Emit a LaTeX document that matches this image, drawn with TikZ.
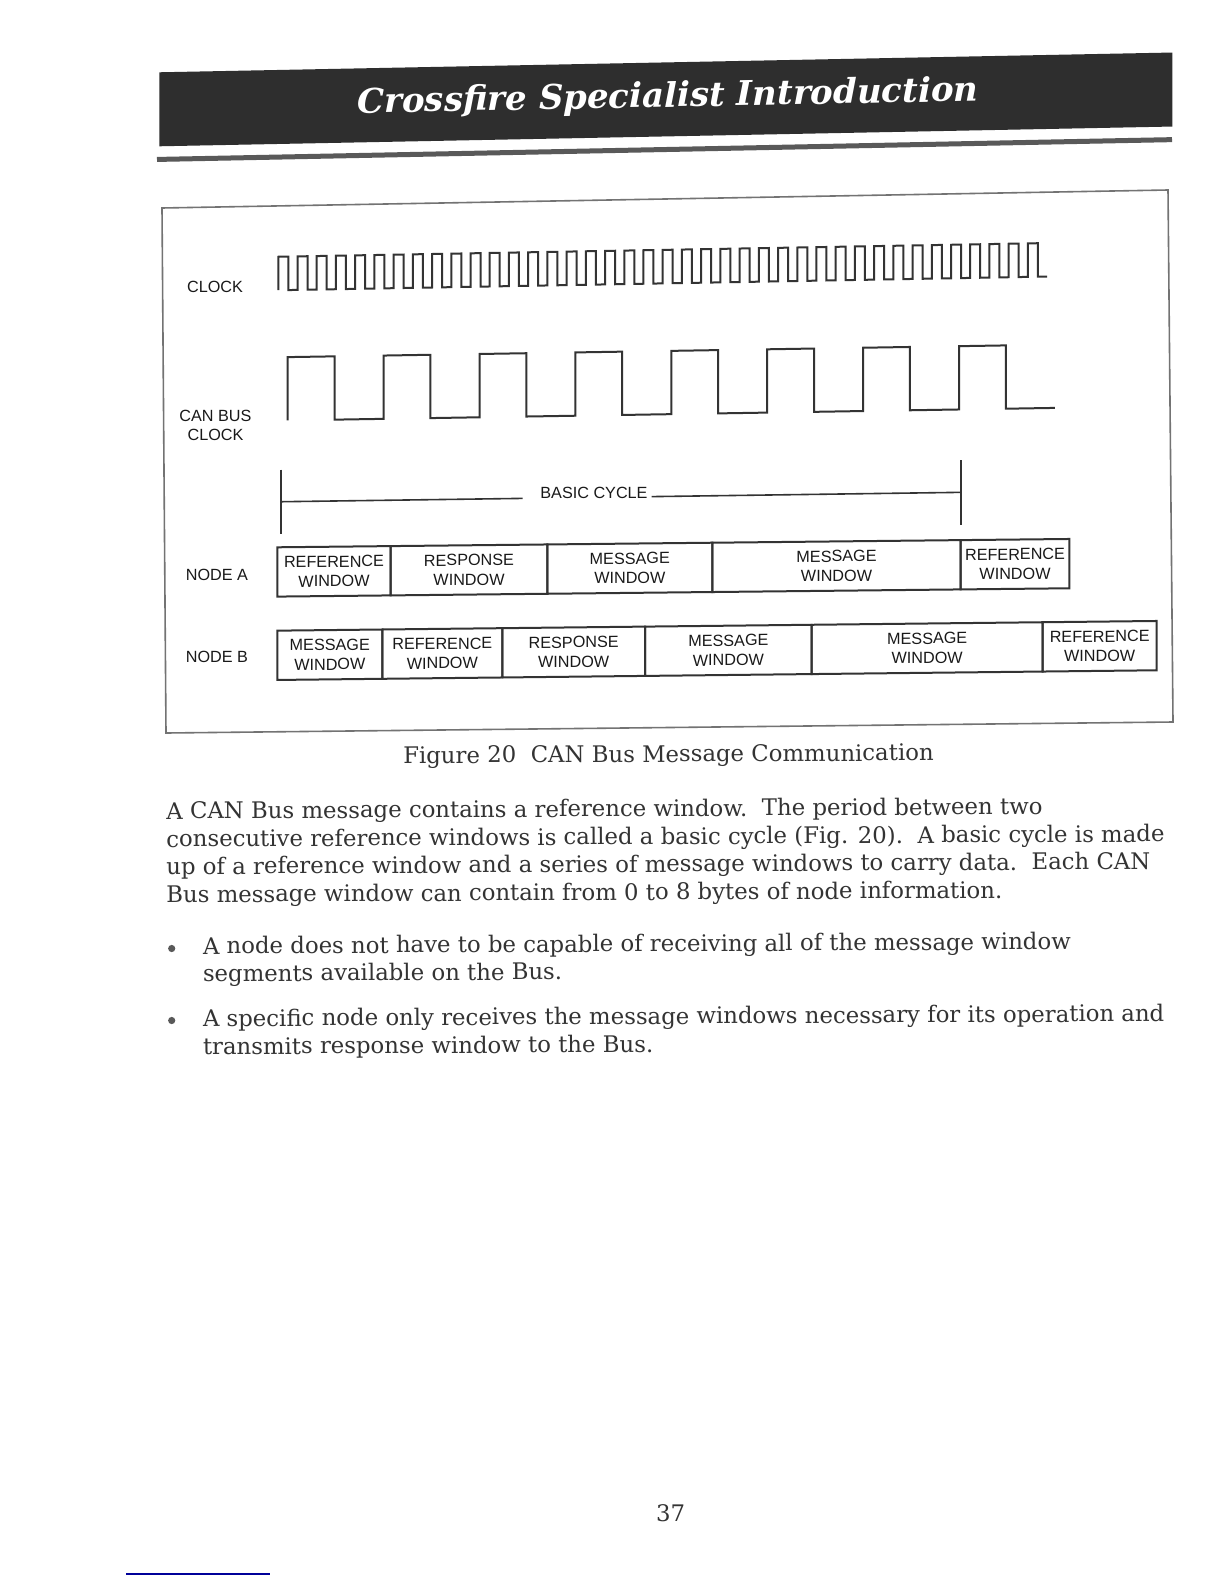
\documentclass[tikz,border=0pt]{standalone}
\usepackage{fontspec}
\setmainfont{DejaVu Serif}
\newfontfamily\sansf{Liberation Sans}
\newcommand\wbox[5]{\node[win, minimum width={(#3-#2)*0.5pt}, minimum height=24.65pt] (#1) at ({(#2+#3)/2},#4) {#5};}
\begin{document}
\begin{tikzpicture}[x=0.5pt,y=-0.5pt,
  lbl/.style={font=\sansf\fontsize{8.1}{9.65}\selectfont, text=black!90, inner sep=0},
  win/.style={draw=black!80, line width=1pt, inner sep=0, outer sep=0, align=center, font=\sansf\fontsize{8.1}{9.75}\selectfont, text=black!90},
  wave/.style={draw=black!80, line width=1pt, line join=miter},
  dimline/.style={draw=black!80, line width=0.8pt},
  body/.style={font=\fontsize{11.4}{13.9}\selectfont, text=black!80, inner sep=0, anchor=base west, rotate=0.3},
  bullet/.style={circle, fill=black!65, inner sep=0, minimum size=3.6pt},
]
\useasboundingbox (0,0) rectangle (1224,1584);
\fill[white] (0,0) rectangle (1224,1584);

% header
\begin{scope}[yslant=0.0195, transform shape]
  \node[fill=black!82, minimum width=506.5pt, minimum height=37pt, inner sep=0, anchor=north west] (bar) at (159,75) {};
  \node[anchor=base west, inner sep=0, text=white, font=\bfseries\itshape] (title) at (357,120) {\resizebox{310.5pt}{!}{Crossfire Specialist Introduction}};
  \coordinate (ulL) at (157,162.5);
  \coordinate (ulR) at (1172,162.5);
  \draw[line width=2.5pt, black!65] (ulL) -- (ulR);
\end{scope}

% figure frame
\coordinate (fTL) at (162,208);
\coordinate (fTR) at (1168,190);
\coordinate (fBR) at (1173,722);
\coordinate (fBL) at (166,733);
\draw[black!55, line width=0.8pt] (fTL) -- (fTR) -- (fBR) -- (fBL) -- cycle;

% labels
\node[lbl] (lclk) at (215,286.5) {CLOCK};
\node[lbl, align=center] (lcan) at (215.5,425.3) {CAN BUS\\CLOCK};
\node[lbl] (lna) at (217,575) {NODE A};
\node[lbl] (lnb) at (217,657.3) {NODE B};

% clock
\begin{scope}[yslant=0.0178]
  \draw[wave] (278.3,295.2) foreach \i in {1,...,40} { -- ++(0,-33.5) -- ++(10,0) -- ++(0,33.5) -- ++(9.22,0) };
\end{scope}

% CAN bus clock
\begin{scope}[yslant=0.0163]
  \draw[wave] (287.7,425.1) foreach \i in {1,...,8} { -- ++(0,-63.3) -- ++(46.8,0) -- ++(0,63.3) -- ++(49.1,0) };
\end{scope}

% basic cycle
\begin{scope}[yslant=0.0138]
  \coordinate (bcLt) at (281,473.5);
  \coordinate (bcLb) at (281,537.8);
  \coordinate (bcRt) at (960.7,473.5);
  \coordinate (bcRb) at (960.7,537.8);
  \coordinate (bcL) at (281,505.6);
  \coordinate (bcM1) at (522.7,505.6);
  \coordinate (bcM2) at (651.7,505.6);
  \coordinate (bcR) at (960.7,505.6);
  \node[lbl, anchor=base west] (bc) at (540,505.6) {BASIC CYCLE};
  \draw[dimline] (bcLt) -- (bcLb);
  \draw[dimline] (bcRt) -- (bcRb);
  \draw[dimline] (bcL) -- (bcM1);
  \draw[dimline] (bcM2) -- (bcR);
\end{scope}

% node A
\begin{scope}[yslant=0.0105, transform shape]
  \wbox{a1}{277.3}{390.7}{574.85}{REFERENCE\\WINDOW}
  \wbox{a2}{390.7}{547.3}{574.85}{RESPONSE\\WINDOW}
  \wbox{a3}{547.3}{712.3}{574.85}{MESSAGE\\WINDOW}
  \wbox{a4}{712.3}{960.7}{574.85}{MESSAGE\\WINDOW}
  \wbox{a5}{960.7}{1069.3}{574.85}{REFERENCE\\WINDOW}
\end{scope}

% node B
\begin{scope}[yslant=0.011, transform shape]
  \wbox{b1}{277.3}{382.3}{658.35}{MESSAGE\\WINDOW}
  \wbox{b2}{382.3}{502.3}{658.35}{REFERENCE\\WINDOW}
  \wbox{b3}{502.3}{645}{658.35}{RESPONSE\\WINDOW}
  \wbox{b4}{645}{811.7}{658.35}{MESSAGE\\WINDOW}
  \wbox{b5}{811.7}{1042.7}{658.35}{MESSAGE\\WINDOW}
  \wbox{b6}{1042.7}{1156.7}{658.35}{REFERENCE\\WINDOW}
\end{scope}

% caption
\node[body, anchor=base] (cap) at (668.5,762) {Figure 20\ \ CAN Bus Message Communication};

% body text
\node[body] (t1) at (166,819) {A CAN Bus message contains a reference window.\ \ The period between two};
\node[body] (t2) at (166,847) {consecutive reference windows is called a basic cycle (Fig. 20).\ \ A basic cycle is made};
\node[body] (t3) at (166,874.5) {up of a reference window and a series of message windows to carry data.\ \ Each CAN};
\node[body] (t4) at (166,902.5) {Bus message window can contain from 0 to 8 bytes of node information.};

\node[bullet] (bul1) at (171.7,948.5) {};
\node[body] (u1) at (202.6,954) {A node does not have to be capable of receiving all of the message window};
\node[body] (u1b) at (202.6,981.5) {segments available on the Bus.};
\node[bullet] (bul2) at (171.7,1020.5) {};
\node[body] (u2) at (202.6,1026.5) {A specific node only receives the message windows necessary for its operation and};
\node[body] (u2b) at (202.6,1054.5) {transmits response window to the Bus.};

% page number
\node[body, anchor=base, rotate=-0.3] (pg) at (670.5,1521) {37};

% blue rule
\coordinate (blL) at (126,1574);
\coordinate (blR) at (270,1574);
\draw[blue!60!black, line width=1pt] (blL) -- (blR);
\end{tikzpicture}
\end{document}
